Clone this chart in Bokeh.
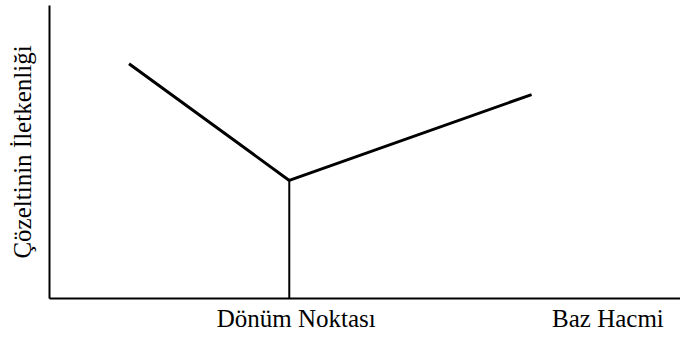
from bokeh.plotting import figure
from bokeh.models import FixedTicker, Range1d
from bokeh.embed import file_html
from bokeh.resources import INLINE

# Data (arbitrary units)
curve_x = [1.26, 3.80, 7.64]
curve_y = [8.01, 4.03, 6.96]
endpoint_x = [3.80, 3.80]
endpoint_y = [0.0, 4.03]
tick_pos = [3.91, 8.85]
tick_labels = ["Dönüm Noktası", "Baz Hacmi"]
y_label = "Çözeltinin İletkenliği"

FONT = "'Liberation Serif', 'Times New Roman', serif"

p = figure(width=680, height=338, output_backend="svg", toolbar_location=None,
           x_range=Range1d(0, 10), y_range=Range1d(0, 10),
           min_border_left=49, min_border_right=0, min_border_top=5, min_border_bottom=40)
p.outline_line_color = None
p.grid.visible = False
p.background_fill_color = "white"
p.border_fill_color = "white"

p.line(curve_x, curve_y, line_color="black", line_width=3)
p.line(endpoint_x, endpoint_y, line_color="black", line_width=2)

xa = p.xaxis[0]
xa.ticker = FixedTicker(ticks=tick_pos)
xa.major_label_overrides = {tick_pos[i]: tick_labels[i] for i in range(len(tick_pos))}
xa.major_tick_line_color = None
xa.minor_tick_line_color = None
xa.major_tick_out = 0
xa.major_tick_in = 0
xa.axis_line_width = 2
xa.axis_line_color = "black"
xa.major_label_text_font = FONT
xa.major_label_text_font_size = "25px"
xa.major_label_text_color = "black"
xa.major_label_standoff = 6

ya = p.yaxis[0]
ya.ticker = FixedTicker(ticks=[])
ya.major_tick_line_color = None
ya.minor_tick_line_color = None
ya.major_tick_out = 0
ya.major_tick_in = 0
ya.axis_line_width = 2
ya.axis_line_color = "black"
ya.axis_label = y_label
ya.axis_label_text_font = FONT
ya.axis_label_text_font_size = "25px"
ya.axis_label_text_font_style = "normal"
ya.axis_label_text_color = "black"
ya.axis_label_standoff = 14

open("out.html", "w").write(file_html(p, INLINE))
